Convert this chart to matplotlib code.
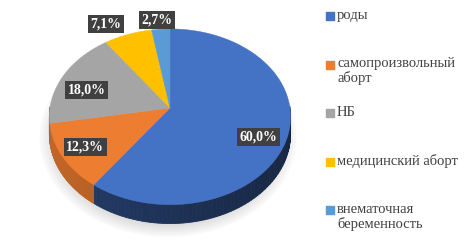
import numpy as np
import matplotlib.pyplot as plt
from matplotlib.patches import Polygon, Ellipse
import matplotlib.colors as mcolors

labels = ["роды", "самопроизвольный\nаборт", "НБ", "медицинский аборт", "внематочная\nбеременность"]
values = [60.0, 12.3, 18.0, 7.1, 2.7]
pct_labels = ["60,0%", "12,3%", "18,0%", "7,1%", "2,7%"]
colors = ["#4472C4", "#ED7D31", "#A5A5A5", "#FFC000", "#5B9BD5"]

plt.rcParams['font.family'] = ['Liberation Serif', 'DejaVu Serif']

fig = plt.figure(figsize=(4.73, 2.52), dpi=100)
ax = fig.add_axes([0, 0, 1, 1])
ax.set_xlim(0, 473)
ax.set_ylim(252, 0)
ax.axis("off")

# pie geometry (pixels), simple perspective tilt
cx, cy, rx, ry, k, depth = 170, 108, 120, 87, 0.1, 17


def proj(theta, drop=0.0):
    s = 1 / (1 + k * np.sin(theta))
    return cx + rx * np.cos(theta) * s, cy - ry * np.sin(theta) * s + drop * s


# soft shadow under the pie
for i in range(6):
    sc = 1.07 - 0.025 * i
    ax.add_patch(Ellipse((cx - 2, cy + 30), 2 * rx * sc, 2 * ry * sc * 1.06,
                         fc="#707070", ec="none", alpha=0.045, zorder=0))

total = sum(values)
cum = np.concatenate([[0], np.cumsum(values)]) / total
starts = np.radians(90 - 360 * cum[:-1])
ends = np.radians(90 - 360 * cum[1:])

# side walls (front half only)
side_shade = [0.5, 0.78, 0.65, 0.7, 0.6]
for a0, a1, c, sh in zip(starts, ends, colors, side_shade):
    th = np.linspace(a0, a1, 120)
    base = np.array(mcolors.to_rgb(c))
    for t0, t1 in zip(th[:-1], th[1:]):
        tm = (t0 + t1) / 2
        if np.sin(tm) >= 0.02:
            continue
        shade = sh - 0.1 * (np.cos(tm) + 0.6)
        col = np.clip(base * shade, 0, 1)
        x0, y0 = proj(t0)
        x1, y1 = proj(t1)
        x2, y2 = proj(t1, depth)
        x3, y3 = proj(t0, depth)
        ax.add_patch(Polygon([[x0, y0], [x1, y1], [x2, y2], [x3, y3]],
                             closed=True, fc=col, ec=col, lw=0.6, zorder=1))

# top surface
for a0, a1, c in zip(starts, ends, colors):
    th = np.linspace(a0, a1, 200)
    xs, ys = proj(th)
    pts = [[cx, cy]] + list(zip(xs, ys))
    ax.add_patch(Polygon(pts, closed=True, fc=c, ec=c, lw=0.3, zorder=2))

# data labels
radii = [0.75, 0.79, 0.78, 1.14, 1.12]
offsets = [(0, 8), (0, 0), (0, 7), (-16, 0), (-3, 0)]
for a0, a1, txt, r, (dx, dy) in zip(starts, ends, pct_labels, radii, offsets):
    tm = (a0 + a1) / 2
    s = 1 / (1 + k * np.sin(tm))
    x = cx + rx * r * np.cos(tm) * s + dx
    y = cy - ry * r * np.sin(tm) * s + dy
    ax.text(x, y, txt, ha="center", va="center", color="white", fontsize=10,
            fontweight="bold", zorder=5,
            bbox=dict(boxstyle="square,pad=0.18", fc="#404040", ec="none"))

# legend
for i, (lab, c) in enumerate(zip(labels, colors)):
    yc = 16 + 48.5 * i
    ax.scatter([330], [yc], marker="s", s=26, color=c, zorder=5)
    ax.text(337, yc - 7, lab, ha="left", va="top", fontsize=10.5,
            color="#404040", linespacing=1.05)

plt.savefig("out.png", dpi=100)
